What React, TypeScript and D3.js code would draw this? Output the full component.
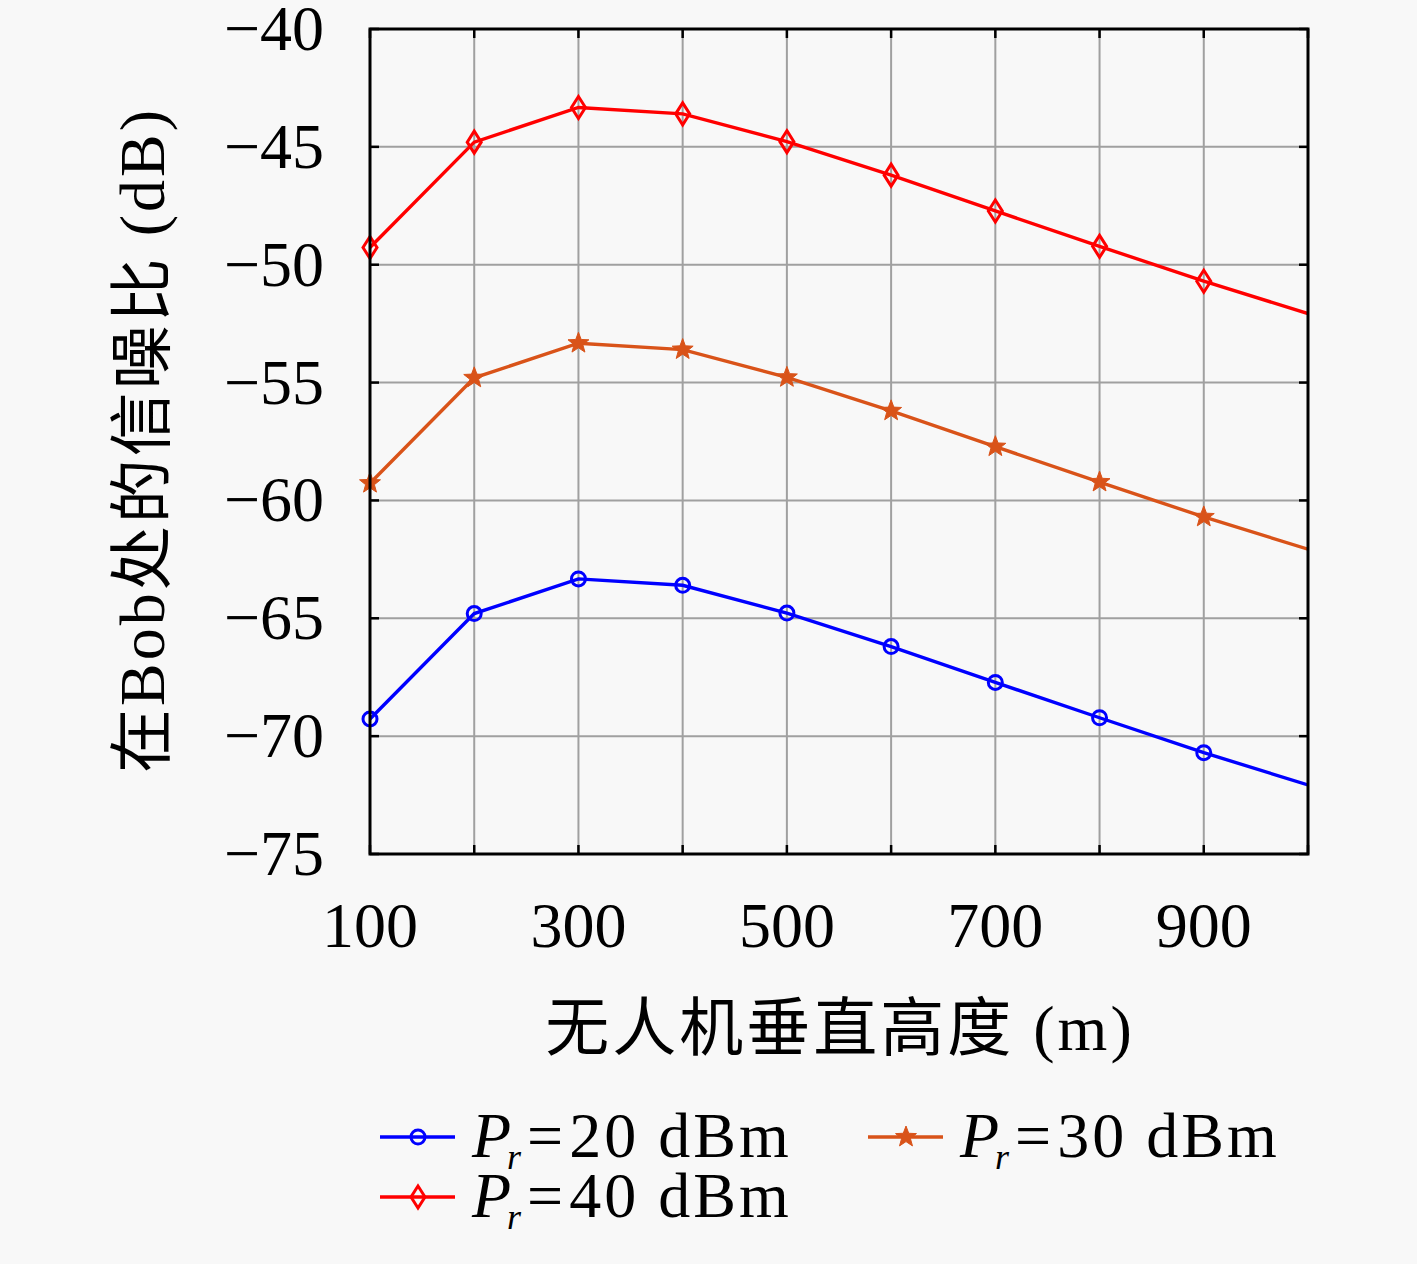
import React from "react";
import * as d3 from "d3";

const heights = [100, 200, 300, 400, 500, 600, 700, 800, 900, 1000];
const snr20 = [-69.27, -64.8, -63.33, -63.6, -64.78, -66.2, -67.72, -69.22, -70.7, -72.07];
const snr30 = [-59.27, -54.8, -53.33, -53.6, -54.78, -56.2, -57.72, -59.22, -60.7, -62.07];
const snr40 = [-49.27, -44.8, -43.33, -43.6, -44.78, -46.2, -47.72, -49.22, -50.7, -52.07];
const xTicks = [100, 300, 500, 700, 900];
const xGrid = [100, 200, 300, 400, 500, 600, 700, 800, 900, 1000];
const yTicks = [-40, -45, -50, -55, -60, -65, -70, -75];

const seriesList = [
  { name: "20", values: snr20, color: "#0000ff", marker: "circle" },
  { name: "30", values: snr30, color: "#d95319", marker: "star" },
  { name: "40", values: snr40, color: "#ff0000", marker: "diamond" },
];

const W = 1417, H = 1264;
const L = 370, R = 1308, T = 29, B = 854;
const FONT = "'Liberation Serif', 'DejaVu Serif', serif";
const CJK = "'Liberation Serif', 'Noto Sans CJK SC', serif";

function starPath(r: number) {
  const pts: string[] = [];
  for (let i = 0; i < 10; i++) {
    const rr = i % 2 === 0 ? r : r * 0.42;
    const a = -Math.PI / 2 + (i * Math.PI) / 5;
    pts.push(`${(rr * Math.cos(a)).toFixed(2)},${(rr * Math.sin(a)).toFixed(2)}`);
  }
  return "M" + pts.join("L") + "Z";
}

function Marker({ type, color, x, y }: { type: string; color: string; x: number; y: number }) {
  if (type === "circle")
    return <circle cx={x} cy={y} r={7} fill="none" stroke={color} strokeWidth={3} />;
  if (type === "diamond")
    return (
      <path
        d={`M${x},${y - 11}L${x + 7},${y}L${x},${y + 11}L${x - 7},${y}Z`}
        fill="none"
        stroke={color}
        strokeWidth={3}
      />
    );
  return <path d={starPath(11)} transform={`translate(${x},${y})`} fill={color} stroke={color} strokeWidth={1} />;
}

export default function App() {
  const x = d3.scaleLinear().domain([100, 1000]).range([L, R]);
  const y = d3.scaleLinear().domain([-75, -40]).range([B, T]);
  const line = d3
    .line<number>()
    .x((_, i) => x(heights[i]))
    .y((d) => y(d));

  const legend = [
    { s: seriesList[0], lx: 380, ly: 1137 },
    { s: seriesList[1], lx: 868, ly: 1137 },
    { s: seriesList[2], lx: 380, ly: 1197 },
  ];

  return (
    <svg width={W} height={H} style={{ display: "block", position: "absolute", left: 0, top: 0, background: "#f8f8f8" }}>
      <rect x={0} y={0} width={W} height={H} fill="#f8f8f8" />
      <rect x={L} y={T} width={R - L} height={B - T} fill="#f8f8f8" />
      {xGrid.map((v) => (
        <line key={"gx" + v} x1={x(v)} x2={x(v)} y1={T} y2={B} stroke="#a0a0a0" strokeWidth={2} />
      ))}
      {yTicks.map((v) => (
        <line key={"gy" + v} x1={L} x2={R} y1={y(v)} y2={y(v)} stroke="#a0a0a0" strokeWidth={2} />
      ))}
      {xGrid.map((v) => (
        <g key={"tx" + v}>
          <line x1={x(v)} x2={x(v)} y1={B} y2={B - 9} stroke="#000" strokeWidth={2.5} />
          <line x1={x(v)} x2={x(v)} y1={T} y2={T + 9} stroke="#000" strokeWidth={2.5} />
        </g>
      ))}
      {yTicks.map((v) => (
        <g key={"ty" + v}>
          <line x1={L} x2={L + 9} y1={y(v)} y2={y(v)} stroke="#000" strokeWidth={2.5} />
          <line x1={R} x2={R - 9} y1={y(v)} y2={y(v)} stroke="#000" strokeWidth={2.5} />
        </g>
      ))}
      <defs>
        <clipPath id="plotclip">
          <rect x={L - 15} y={T} width={R - L + 15} height={B - T} />
        </clipPath>
      </defs>
      <g clipPath="url(#plotclip)">
        {seriesList.map((s) => (
          <g key={s.name}>
            <path d={line(s.values) || ""} fill="none" stroke={s.color} strokeWidth={3.4} />
            {s.values.slice(0, 9).map((v, i) => (
              <Marker key={i} type={s.marker} color={s.color} x={x(heights[i])} y={y(v)} />
            ))}
          </g>
        ))}
      </g>
      <rect x={L} y={T} width={R - L} height={B - T} fill="none" stroke="#000" strokeWidth={3} />
      {yTicks.map((v) => (
        <text key={"yl" + v} x={324} y={y(v) + 21} textAnchor="end" fontFamily={FONT} fontSize={64} fill="#000">
          {"\u2212" + Math.abs(v)}
        </text>
      ))}
      {xTicks.map((v) => (
        <text key={"xl" + v} x={x(v)} y={947} textAnchor="middle" fontFamily={FONT} fontSize={64} fill="#000">
          {v}
        </text>
      ))}
      <text x={840} y={1050} textAnchor="middle" fontFamily={CJK} fontSize={64} letterSpacing={3} fill="#000">
        无人机垂直高度 (m)
      </text>
      <text
        transform={`translate(164,440) rotate(-90)`}
        textAnchor="middle"
        fontFamily={CJK}
        fontSize={64}
        letterSpacing={3}
        fill="#000"
      >
        在Bob处的信噪比 (dB)
      </text>
      {legend.map(({ s, lx, ly }) => (
        <g key={"lg" + s.name}>
          <line x1={lx} x2={lx + 75} y1={ly} y2={ly} stroke={s.color} strokeWidth={3.4} />
          <Marker type={s.marker} color={s.color} x={lx + 38} y={ly} />
          <text x={lx + 92} y={ly + 20} fontFamily={FONT} fontSize={64} fill="#000">
            <tspan fontStyle="italic">P</tspan>
            <tspan fontStyle="italic" fontSize={36} dy={12} dx={-4}>r</tspan>
            <tspan dy={-12} dx={6}>{"="}</tspan>
            <tspan dx={6} letterSpacing={3}>{s.name + "\u00a0dBm"}</tspan>
          </text>
        </g>
      ))}
    </svg>
  );
}
